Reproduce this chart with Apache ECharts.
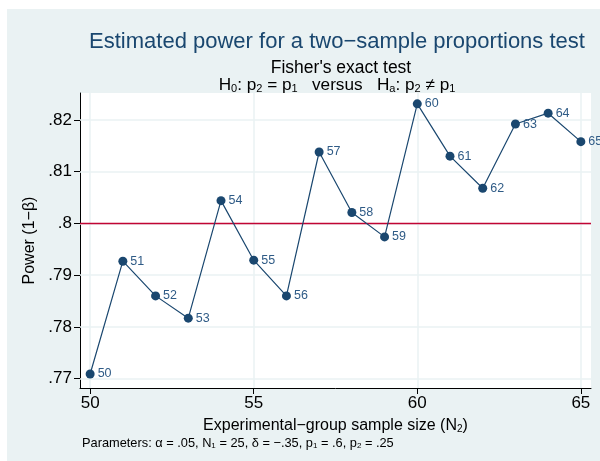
<!DOCTYPE html>
<html>
<head>
<meta charset="utf-8">
<script src="https://cdn.jsdelivr.net/npm/echarts@6/dist/echarts.min.js"></script>
<style>
html, body { margin: 0; padding: 0; background: #fff; }
#chart { width: 600px; height: 461px; }
</style>
</head>
<body>
<div id="chart"></div>
<script>
// sample sizes (N2) and estimated power
var sizes = [50, 51, 52, 53, 54, 55, 56, 57, 58, 59, 60, 61, 62, 63, 64, 65];
var power = [0.7709, 0.7927, 0.7860, 0.7817, 0.8044, 0.7929, 0.7860, 0.8138,
             0.8021, 0.7974, 0.8231, 0.8130, 0.8068, 0.8192, 0.8213, 0.8158];
var xTicks = [50, 55, 60, 65];
var yTicks = [0.77, 0.78, 0.79, 0.80, 0.81, 0.82];
var targetPower = 0.8;

var navy = '#1a476f';
var bgBlue = '#eaf2f3';
var font = 'Liberation Sans, Arial, sans-serif';

function fmtY(v) {
  return String(+(+v).toFixed(2)).replace(/^0/, '');
}

// rich styles for text with subscripts
function subRich(size, color) {
  return {
    n: { fontSize: size, lineHeight: size + 3, color: color, fontFamily: font, fontWeight: 'normal', verticalAlign: 'bottom' },
    s: { fontSize: Math.round(size * 0.62), lineHeight: size + 1, color: color, fontFamily: font, fontWeight: 'normal', verticalAlign: 'bottom' }
  };
}

var chart = echarts.init(document.getElementById('chart'));

var markData = xTicks.map(function (v) { return { xAxis: v }; })
  .concat(yTicks.map(function (v) { return { yAxis: v }; }))
  .concat([{ yAxis: targetPower, lineStyle: { color: '#c10534', width: 1.3 } }]);

var option = {
  backgroundColor: '#fff',
  animation: false,
  textStyle: { fontFamily: font },
  graphic: [
    { type: 'rect', z: -10, shape: { x: 7, y: 9, width: 593, height: 452 }, style: { fill: bgBlue } },
    { type: 'text', left: 82, top: 437, style: {
        text: '{n|Parameters: α = .05, N}{s|1}{n| = 25, δ = −.35, p}{s|1}{n| = .6, p}{s|2}{n| = .25}',
        rich: subRich(12.8, '#000') } }
  ],
  title: [
    { text: 'Estimated power for a two−sample proportions test', left: 332, textAlign: 'center', top: 26,
      textStyle: { fontSize: 22, fontWeight: 'normal', color: navy, fontFamily: font } },
    { text: "Fisher's exact test", left: 336, textAlign: 'center', top: 54,
      textStyle: { fontSize: 17.5, fontWeight: 'normal', color: '#000', fontFamily: font } },
    { text: '{n|H}{s|0}{n|: p}{s|2}{n| = p}{s|1}{n|   versus   H}{s|a}{n|: p}{s|2}{n| ≠ p}{s|1}',
      left: 332, textAlign: 'center', top: 69,
      textStyle: { fontWeight: 'normal', rich: subRich(17.2, '#000') } }
  ],
  grid: { left: 80, top: 93, right: 9, bottom: 73, backgroundColor: '#fff', show: true, borderWidth: 0 },
  xAxis: {
    type: 'value', min: 49.69, max: 65.31,
    name: '{n|Experimental−group sample size (N}{s|2}{n|)}', nameLocation: 'middle', nameGap: 27,
    nameTextStyle: { rich: subRich(16, '#000') },
    axisLine: { show: true, onZero: false, lineStyle: { color: '#000', width: 1 } },
    axisTick: { show: true, customValues: xTicks, length: 6, lineStyle: { color: '#000' } },
    axisLabel: { customValues: xTicks, fontSize: 17, color: '#000', margin: 7 },
    splitLine: { show: false }
  },
  yAxis: {
    type: 'value', min: 0.7682, max: 0.8252,
    name: 'Power (1−β)', nameLocation: 'middle', nameGap: 38, nameRotate: 90,
    nameTextStyle: { fontSize: 16, color: '#000' },
    axisLine: { show: true, onZero: false, lineStyle: { color: '#000', width: 1 } },
    axisTick: { show: true, customValues: yTicks, length: 6, lineStyle: { color: '#000' } },
    axisLabel: { customValues: yTicks, fontSize: 17, color: '#000', margin: 8, formatter: fmtY },
    splitLine: { show: false }
  },
  series: [
    {
      type: 'line',
      data: sizes.map(function (s, i) { return [s, power[i]]; }),
      symbol: 'circle', symbolSize: 9,
      lineStyle: { color: navy, width: 1.2 },
      itemStyle: { color: navy },
      label: {
        show: true, position: 'right', distance: 3, fontSize: 12.5, color: '#2f5b86',
        formatter: function (p) { return String(p.value[0]); }
      },
      markLine: {
        silent: true, symbol: 'none', z: 1,
        label: { show: false },
        lineStyle: { color: bgBlue, width: 1.5, type: 'solid' },
        data: markData
      },
      z: 3
    }
  ]
};

chart.setOption(option);
</script>
</body>
</html>
